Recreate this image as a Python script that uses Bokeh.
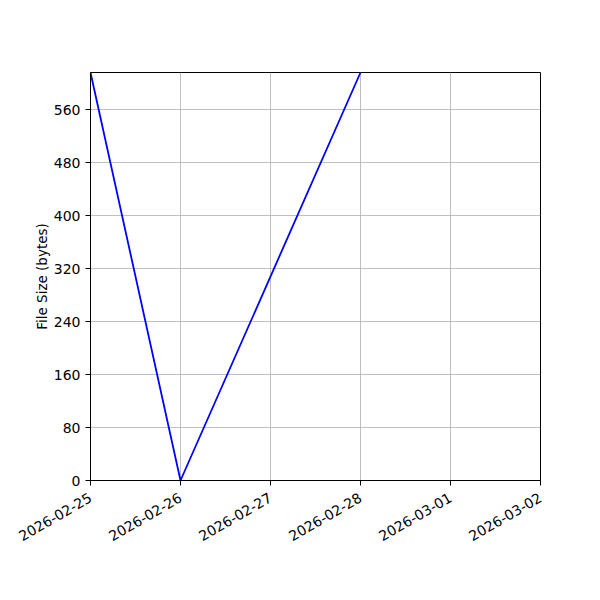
import math
import pandas as pd
from bokeh.plotting import figure
from bokeh.models import FixedTicker, DatetimeTickFormatter, Range1d
from bokeh.embed import file_html
from bokeh.resources import INLINE

dates = ["2026-02-25", "2026-02-26", "2026-02-28"]
sizes = [616, 0, 616]
x_ticks = ["2026-02-25", "2026-02-26", "2026-02-27", "2026-02-28", "2026-03-01", "2026-03-02"]
y_ticks = [0, 80, 160, 240, 320, 400, 480, 560]

xd = pd.to_datetime(dates)
xt = pd.to_datetime(x_ticks)
to_ms = lambda t: t.value / 1e6
xt_ms = [to_ms(t) for t in xt]

p = figure(width=584, height=584, output_backend="svg", toolbar_location=None,
           x_axis_type="datetime",
           x_range=Range1d(xt_ms[0], xt_ms[-1]),
           y_range=Range1d(0, 616),
           min_border_left=90, min_border_right=44, min_border_top=72, min_border_bottom=104)

p.line(xd, sizes, line_color="#0000ff", line_width=1.8)

p.xaxis.ticker = FixedTicker(ticks=xt_ms)
p.xaxis.formatter = DatetimeTickFormatter(days="%Y-%m-%d", months="%Y-%m-%d", hours="%Y-%m-%d")
p.xaxis.major_label_orientation = math.pi / 6
p.xaxis.major_label_standoff = 11
p.yaxis.ticker = FixedTicker(ticks=y_ticks)
p.yaxis.axis_label = "File Size (bytes)"
p.yaxis.axis_label_standoff = 1

for ax in (p.xaxis, p.yaxis):
    ax.major_label_text_font = "DejaVu Sans"
    ax.major_label_text_font_size = "14px"
    ax.major_label_text_color = "black"
    ax.axis_line_color = "black"
    ax.major_tick_line_color = "black"
    ax.major_tick_out = 5
    ax.major_tick_in = 0
    ax.minor_tick_line_color = None
    ax.axis_label_text_font = "DejaVu Sans"
    ax.axis_label_text_font_size = "13.5px"
    ax.axis_label_text_font_style = "normal"
    ax.axis_label_text_color = "black"

p.grid.grid_line_color = "#b0b0b0"
p.grid.grid_line_width = 0.8
p.outline_line_color = "black"
p.outline_line_alpha = 1

open("out.html", "w").write(file_html(p, INLINE))
